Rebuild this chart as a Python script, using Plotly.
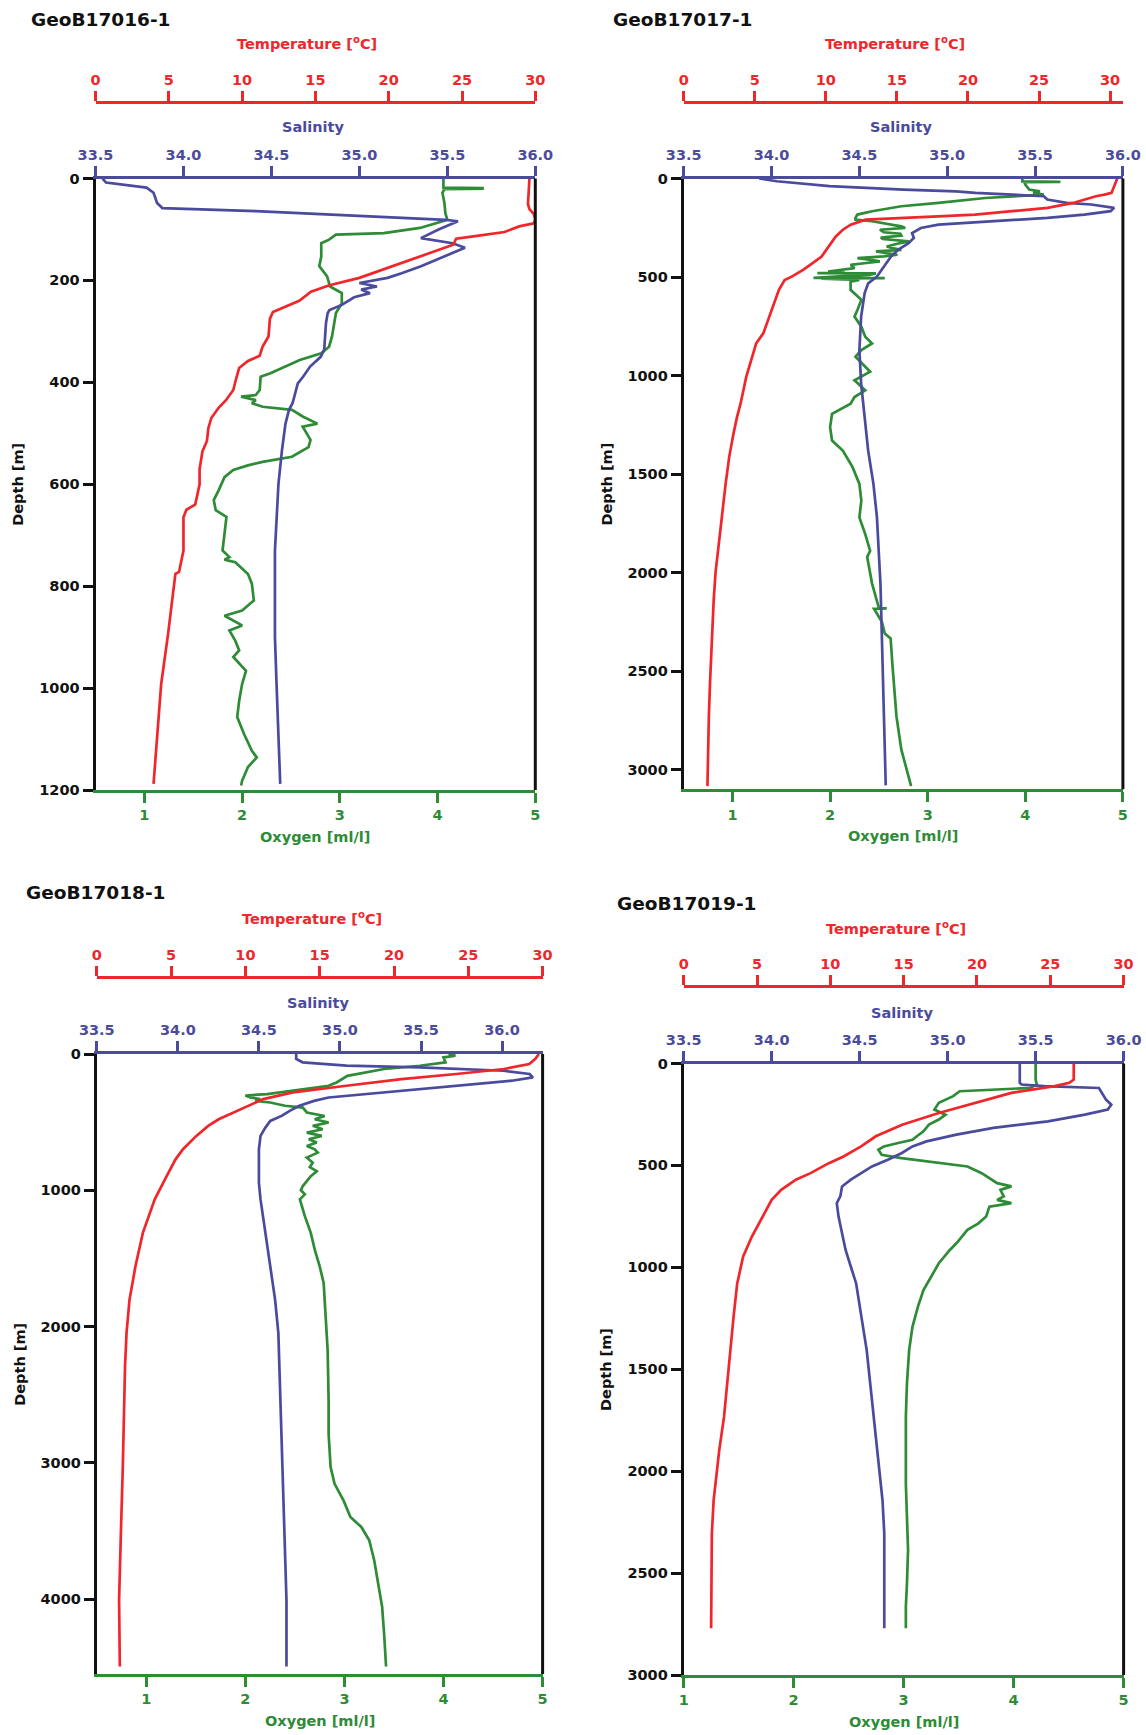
import plotly.graph_objects as go

W, H = 1146, 1735

# ---------------------------------------------------------------- data
stations = ["GeoB17016-1", "GeoB17017-1", "GeoB17018-1", "GeoB17019-1"]

# --- GeoB17016-1
s16_sal_depth = [0, 8, 18, 28, 48, 58, 64, 71, 78, 81, 84, 100, 117, 127, 136, 146, 166, 172, 186,
                 195, 205, 212, 218, 225, 233, 248, 258, 264, 284, 336, 350, 369, 389, 402, 441,
                 454, 481, 533, 599, 664, 730, 800, 900, 1000, 1100, 1188]
s16_sal = [33.54, 33.56, 33.79, 33.83, 33.85, 33.88, 34.41, 34.83, 35.24, 35.49, 35.56, 35.45,
           35.35, 35.53, 35.60, 35.53, 35.40, 35.35, 35.24, 35.16, 35.00, 35.10, 35.01, 35.06,
           34.97, 34.90, 34.83, 34.82, 34.81, 34.80, 34.78, 34.72, 34.68, 34.65, 34.62, 34.60,
           34.58, 34.56, 34.54, 34.53, 34.52, 34.52, 34.52, 34.53, 34.54, 34.55]
s16_temp_depth = [0, 50, 60, 70, 80, 88, 94, 105, 113, 118, 130, 150, 175, 195, 210, 222, 240,
                  255, 262, 275, 310, 330, 348, 358, 372, 392, 415, 435, 450, 470, 490, 515, 535,
                  570, 600, 640, 650, 665, 730, 772, 776, 894, 992, 1188]
s16_temp = [29.6, 29.5, 29.6, 29.9, 30.0, 29.9, 28.9, 27.9, 25.9, 24.6, 24.4, 22.4, 19.9, 18.0,
            15.9, 14.7, 13.9, 12.7, 12.1, 11.9, 11.8, 11.4, 11.2, 10.4, 9.8, 9.6, 9.4, 8.9, 8.4,
            7.9, 7.7, 7.6, 7.3, 7.1, 7.1, 6.8, 6.2, 6.0, 6.0, 5.7, 5.45, 4.95, 4.48, 3.96]
s16_oxy_depth = [0, 18, 19, 20, 21, 28, 48, 68, 81, 97, 107, 110, 120, 127, 153, 172, 192, 212,
                 225, 245, 264, 310, 330, 343, 356, 369, 382, 389, 415, 425, 428, 435, 441, 448,
                 454, 467, 481, 487, 513, 527, 546, 556, 563, 572, 586, 612, 631, 651, 664, 730,
                 743, 748, 753, 776, 795, 828, 848, 858, 867, 877, 887, 907, 926, 939, 966, 992,
                 1025, 1057, 1090, 1123, 1136, 1155, 1182, 1191]
s16_oxy = [4.06, 4.06, 4.46, 4.46, 4.07, 4.05, 4.07, 4.08, 4.10, 3.82, 3.45, 2.96, 2.89, 2.81,
           2.81, 2.79, 2.87, 2.90, 3.02, 3.02, 2.96, 2.92, 2.89, 2.81, 2.59, 2.44, 2.29, 2.19,
           2.18, 2.14, 1.99, 2.14, 2.10, 2.21, 2.51, 2.62, 2.77, 2.62, 2.70, 2.68, 2.51, 2.21,
           2.06, 1.91, 1.82, 1.76, 1.71, 1.73, 1.84, 1.80, 1.87, 1.82, 1.93, 2.06, 2.10, 2.12,
           2.00, 1.82, 1.91, 2.00, 1.87, 1.93, 1.97, 1.91, 2.04, 2.00, 1.97, 1.95, 2.02, 2.10,
           2.15, 2.06, 2.00, 1.99]

# --- GeoB17017-1
s17_sal_depth = [0, 14, 39, 48, 56, 65, 73, 82, 90, 107, 124, 132, 149, 166, 183, 200, 217, 234,
                 251, 277, 302, 328, 362, 396, 447, 498, 532, 582, 701, 871, 1041, 1211, 1381,
                 1550, 1720, 1890, 2056, 2393, 2730, 3080]
s17_sal = [33.93, 34.03, 34.33, 34.54, 34.75, 35.05, 35.16, 35.37, 35.55, 35.57, 35.68, 35.82,
           35.95, 35.93, 35.78, 35.57, 35.26, 34.95, 34.85, 34.80, 34.81, 34.78, 34.72, 34.68,
           34.64, 34.60, 34.55, 34.53, 34.51, 34.50, 34.51, 34.53, 34.55, 34.58, 34.60, 34.61,
           34.62, 34.63, 34.64, 34.65]
s17_temp_depth = [0, 39, 73, 82, 90, 124, 149, 166, 183, 192, 200, 209, 234, 260, 294, 345, 396,
                  438, 464, 498, 515, 565, 667, 786, 837, 905, 1007, 1143, 1211, 1296, 1414, 1550,
                  1720, 1890, 2000, 2140, 2393, 2561, 2730, 2899, 3084]
s17_temp = [30.5, 30.3, 30.1, 29.6, 29.0, 27.4, 25.6, 23.1, 20.5, 17.9, 15.4, 12.8, 11.75, 11.2,
            10.7, 10.2, 9.7, 8.9, 8.4, 7.6, 7.1, 6.7, 6.2, 5.6, 5.1, 4.8, 4.4, 4.0, 3.75, 3.5,
            3.2, 2.95, 2.7, 2.4, 2.24, 2.11, 1.93, 1.85, 1.77, 1.72, 1.67]
s17_oxy_depth = [0, 15, 17, 19, 31, 45, 56, 65, 73, 82, 90, 99, 124, 141, 166, 183, 200, 209, 217,
                 230, 243, 251, 260, 273, 280, 290, 300, 307, 319, 330, 345, 355, 362, 370, 387,
                 395, 404, 412, 421, 430, 438, 455, 472, 478, 480, 482, 489, 497, 504, 506, 508,
                 515, 523, 565, 616, 667, 701, 752, 803, 837, 871, 905, 956, 981, 1024, 1075, 1109,
                 1143, 1194, 1262, 1330, 1381, 1465, 1550, 1635, 1720, 1805, 1890, 1921, 2056,
                 2180, 2182, 2184, 2250, 2309, 2334, 2477, 2612, 2730, 2899, 3084]
s17_oxy = [3.97, 3.97, 4.36, 3.99, 4.00, 4.02, 4.04, 4.15, 4.08, 4.19, 3.90, 3.59, 3.11, 2.73,
           2.43, 2.28, 2.26, 2.26, 2.43, 2.60, 2.73, 2.77, 2.51, 2.55, 2.72, 2.73, 2.52, 2.54,
           2.81, 2.70, 2.58, 2.65, 2.73, 2.47, 2.69, 2.55, 2.28, 2.40, 2.51, 2.35, 2.21, 2.25,
           1.98, 2.15, 1.87, 2.47, 2.40, 2.10, 1.83, 2.56, 1.91, 2.30, 2.21, 2.21, 2.32, 2.28,
           2.25, 2.32, 2.36, 2.43, 2.32, 2.26, 2.36, 2.41, 2.25, 2.36, 2.25, 2.21, 2.02, 2.00,
           2.02, 2.13, 2.23, 2.30, 2.32, 2.30, 2.36, 2.41, 2.38, 2.43, 2.50, 2.58, 2.45, 2.53,
           2.56, 2.62, 2.64, 2.66, 2.68, 2.73, 2.83]

# --- GeoB17018-1
s18_sal_depth = [0, 37, 61, 86, 98, 110, 123, 147, 172, 196, 221, 258, 294, 319, 344, 380, 417,
                 454, 491, 540, 601, 699, 822, 945, 1067, 1313, 1558, 1804, 2049, 2417, 2908, 3276,
                 3641, 4007, 4495]
s18_sal = [34.73, 34.73, 34.77, 35.04, 35.49, 35.77, 36.01, 36.17, 36.19, 36.06, 35.83, 35.49,
           35.16, 34.93, 34.84, 34.75, 34.69, 34.64, 34.57, 34.54, 34.51, 34.50, 34.50, 34.50,
           34.51, 34.54, 34.57, 34.60, 34.62, 34.63, 34.64, 34.65, 34.66, 34.67, 34.67]
s18_temp_depth = [0, 37, 74, 110, 147, 184, 233, 282, 331, 380, 429, 479, 528, 601, 699, 773, 896,
                  1067, 1313, 1558, 1804, 2049, 2294, 2663, 3032, 3520, 3763, 4007, 4495]
s18_temp = [29.75, 29.5, 29.1, 27.4, 24.2, 20.5, 16.8, 13.2, 11.2, 10.2, 9.2, 8.2, 7.5, 6.7, 5.8,
            5.3, 4.7, 3.9, 3.1, 2.6, 2.2, 2.0, 1.9, 1.8, 1.75, 1.62, 1.55, 1.5, 1.55]
s18_oxy_depth = [0, 12, 25, 61, 86, 110, 160, 209, 233, 270, 294, 305, 319, 330, 344, 356, 380,
                 393, 429, 455, 479, 503, 527, 552, 577, 601, 626, 650, 675, 700, 724, 760, 798,
                 830, 860, 896, 930, 969, 1000, 1030, 1067, 1190, 1313, 1436, 1558, 1681, 1926,
                 2172, 2540, 2788, 3032, 3154, 3276, 3398, 3471, 3568, 3715, 3885, 4056, 4251, 4495]
s18_oxy = [4.05, 4.12, 4.00, 4.02, 3.76, 3.40, 3.03, 2.92, 2.84, 2.47, 2.22, 2.00, 2.05, 2.15,
           2.10, 2.25, 2.40, 2.58, 2.62, 2.80, 2.70, 2.84, 2.68, 2.78, 2.62, 2.77, 2.64, 2.72,
           2.62, 2.70, 2.73, 2.62, 2.68, 2.65, 2.72, 2.66, 2.62, 2.58, 2.56, 2.60, 2.55, 2.60,
           2.66, 2.70, 2.75, 2.79, 2.81, 2.83, 2.84, 2.84, 2.86, 2.90, 2.99, 3.06, 3.17, 3.25,
           3.30, 3.34, 3.38, 3.40, 3.42]

# --- GeoB17019-1
s19_sal_depth = [0, 95, 103, 111, 120, 161, 177, 202, 226, 251, 284, 316, 349, 382, 407, 439, 472,
                 505, 538, 570, 603, 652, 685, 751, 833, 915, 997, 1079, 1243, 1406, 1570, 1734,
                 1898, 2144, 2307, 2470, 2633, 2771]
s19_sal = [35.41, 35.41, 35.42, 35.55, 35.86, 35.89, 35.90, 35.93, 35.91, 35.78, 35.57, 35.26,
           35.05, 34.88, 34.80, 34.74, 34.66, 34.57, 34.51, 34.45, 34.40, 34.39, 34.37, 34.38,
           34.40, 34.42, 34.45, 34.48, 34.51, 34.54, 34.56, 34.58, 34.60, 34.63, 34.64, 34.64,
           34.64, 34.64]
s19_temp_depth = [0, 79, 95, 111, 144, 193, 243, 300, 357, 407, 456, 489, 538, 570, 620, 669, 751,
                  849, 948, 1079, 1243, 1488, 1570, 1734, 1899, 2013, 2144, 2307, 2551, 2771]
s19_temp = [26.6, 26.6, 26.3, 25.3, 22.35, 19.9, 17.4, 14.9, 13.1, 12.1, 10.9, 9.9, 8.65, 7.65,
            6.65, 6.0, 5.4, 4.65, 4.05, 3.65, 3.4, 3.1, 2.95, 2.75, 2.42, 2.22, 2.04, 1.92, 1.87,
            1.87]
s19_oxy_depth = [0, 79, 103, 120, 136, 160, 193, 226, 251, 275, 300, 333, 357, 374, 390, 407, 423,
                 448, 464, 489, 505, 538, 587, 603, 620, 652, 669, 685, 702, 751, 784, 816, 882,
                 915, 980, 1046, 1111, 1193, 1292, 1406, 1570, 1734, 1866, 2062, 2225, 2388, 2551,
                 2665, 2771]
s19_oxy = [4.20, 4.20, 4.21, 4.15, 3.51, 3.45, 3.32, 3.28, 3.38, 3.32, 3.23, 3.18, 3.12, 3.08,
           2.95, 2.82, 2.77, 2.80, 2.98, 3.32, 3.58, 3.71, 3.85, 3.98, 3.88, 3.91, 3.85, 3.98,
           3.78, 3.75, 3.68, 3.58, 3.48, 3.42, 3.32, 3.25, 3.18, 3.13, 3.08, 3.05, 3.03, 3.02,
           3.02, 3.02, 3.03, 3.04, 3.03, 3.02, 3.02]

# tick labels
temp_ticks = [0, 5, 10, 15, 20, 25, 30]
sal_ticks = [33.5, 34.0, 34.5, 35.0, 35.5, 36.0]
oxy_ticks = [1, 2, 3, 4, 5]
depth_ticks = [
    [0, 200, 400, 600, 800, 1000, 1200],
    [0, 500, 1000, 1500, 2000, 2500, 3000],
    [0, 1000, 2000, 3000, 4000],
    [0, 500, 1000, 1500, 2000, 2500, 3000],
]

profiles = [
    dict(sal=(s16_sal, s16_sal_depth), temp=(s16_temp, s16_temp_depth), oxy=(s16_oxy, s16_oxy_depth)),
    dict(sal=(s17_sal, s17_sal_depth), temp=(s17_temp, s17_temp_depth), oxy=(s17_oxy, s17_oxy_depth)),
    dict(sal=(s18_sal, s18_sal_depth), temp=(s18_temp, s18_temp_depth), oxy=(s18_oxy, s18_oxy_depth)),
    dict(sal=(s19_sal, s19_sal_depth), temp=(s19_temp, s19_temp_depth), oxy=(s19_oxy, s19_oxy_depth)),
]

# ---------------------------------------------------------------- layout spec (pixels)
panels = [
    dict(x0=95.5, x1=535.3, top=178.5, bot=790, temp_line=101.7, title_x=29, title_y=20,
         depth_max=1200, oxy_min=0.5, sal_max=36.0, temp_max=30.0),
    dict(x0=683.7, x1=1122.9, top=178.5, bot=789.3, temp_line=101.7, title_x=611, title_y=20,
         depth_max=3100, oxy_min=0.5, sal_max=36.0, temp_max=30.9),
    dict(x0=96.8, x1=542.6, top=1054, bot=1674, temp_line=976.7, title_x=24, title_y=892,
         depth_max=4550, oxy_min=0.5, sal_max=36.25, temp_max=30.0),
    dict(x0=683.7, x1=1123.6, top=1063.5, bot=1675, temp_line=986, title_x=615, title_y=903,
         depth_max=3000, oxy_min=1.0, sal_max=36.0, temp_max=30.0),
]

RED = "#f0262a"
BLUE = "#4b4b9e"
GREEN = "#2e8b36"
BLACK = "#111111"
FONT = "DejaVu Sans"
TICK_SIZE = 14.5
LAB_SIZE = 14.5


def px_x(v):
    return v / W


def px_y(v):
    return 1 - v / H


def font(color, size=TICK_SIZE):
    return dict(family=FONT, size=size, color=color, weight="bold")


def ax_id(n, kind):
    return kind if n == 1 else f"{kind}{n}"


def ax_key(n, kind):
    return f"{kind}axis" if n == 1 else f"{kind}axis{n}"


fig = go.Figure()
layout = dict(
    width=W, height=H, margin=dict(l=0, r=0, t=0, b=0), autosize=False,
    paper_bgcolor="white", plot_bgcolor="white", showlegend=False, template="none",
)
annotations = []
shapes = []

for k, (spec, prof) in enumerate(zip(panels, profiles)):
    n_oxy, n_sal, n_temp, n_y = 3 * k + 1, 3 * k + 2, 3 * k + 3, k + 1
    dom_x = [px_x(spec["x0"]), px_x(spec["x1"])]
    dom_y = [px_y(spec["bot"]), px_y(spec["top"])]
    yid = ax_id(n_y, "y")
    common = dict(showgrid=False, zeroline=False, showline=True, linewidth=3, ticks="outside",
                  ticklen=10, tickwidth=2.5, automargin=False, fixedrange=True)

    layout[ax_key(n_y, "y")] = dict(
        common, domain=dom_y, anchor=ax_id(n_oxy, "x"), range=[spec["depth_max"], 0],
        linecolor=BLACK, tickcolor=BLACK, tickfont=font(BLACK),
        tickvals=depth_ticks[k], ticktext=[str(v) for v in depth_ticks[k]])
    layout[ax_key(n_oxy, "x")] = dict(
        common, domain=dom_x, anchor=yid, side="bottom", range=[spec["oxy_min"], 5],
        linecolor=GREEN, tickcolor=GREEN, tickfont=font(GREEN),
        tickvals=oxy_ticks, ticktext=[str(v) for v in oxy_ticks])
    layout[ax_key(n_sal, "x")] = dict(
        common, domain=dom_x, anchor=yid, side="top", overlaying=ax_id(n_oxy, "x"),
        range=[33.5, spec["sal_max"]], linecolor=BLUE, tickcolor=BLUE, tickfont=font(BLUE),
        tickvals=sal_ticks, ticktext=[f"{v:.1f}" for v in sal_ticks])
    layout[ax_key(n_temp, "x")] = dict(
        common, domain=dom_x, anchor="free", position=px_y(spec["temp_line"]), side="top",
        overlaying=ax_id(n_oxy, "x"), range=[0, spec["temp_max"]], linecolor=RED,
        tickcolor=RED, tickfont=font(RED),
        tickvals=temp_ticks, ticktext=[str(v) for v in temp_ticks])

    # right frame
    shapes.append(dict(type="line", xref=f"{ax_id(n_oxy, 'x')} domain", yref=f"{yid} domain",
                       x0=1, x1=1, y0=0, y1=1, line=dict(color=BLACK, width=3)))

    # traces
    for var, color, n_x in (("sal", BLUE, n_sal), ("temp", RED, n_temp), ("oxy", GREEN, n_oxy)):
        vals, depths = prof[var]
        fig.add_trace(go.Scatter(x=vals, y=depths, mode="lines",
                                 line=dict(color=color, width=2.7),
                                 xaxis=ax_id(n_x, "x"), yaxis=yid, hoverinfo="skip"))

    cx_px = (spec["x0"] + spec["x1"]) / 2
    annotations += [
        dict(text=stations[k], x=px_x(spec["title_x"]), y=px_y(spec["title_y"]),
             xanchor="left", yanchor="middle", font=font(BLACK, 18.5)),
        dict(text="Temperature [<sup>o</sup>C]", x=px_x(cx_px - 8),
             y=px_y(spec["temp_line"] - 58.5),
             xanchor="center", yanchor="middle", font=font(RED, LAB_SIZE)),
        dict(text="Salinity", x=px_x(cx_px - 2), y=px_y(spec["top"] - 51), xanchor="center",
             yanchor="middle", font=font(BLUE, LAB_SIZE)),
        dict(text="Oxygen [ml/l]", x=px_x(cx_px), y=px_y(spec["bot"] + 47), xanchor="center",
             yanchor="middle", font=font(GREEN, LAB_SIZE)),
        dict(text="Depth [m]", x=px_x(spec["x0"] - 77), y=px_y((spec["top"] + spec["bot"]) / 2),
             xanchor="center", yanchor="middle", textangle=-90, font=font(BLACK, LAB_SIZE)),
    ]

for a in annotations:
    a.update(xref="paper", yref="paper", showarrow=False)
layout["annotations"] = annotations
layout["shapes"] = shapes
fig.update_layout(**layout)
fig.write_html(
    "out.html",
    config={"displayModeBar": False, "staticPlot": False},
    post_script=("document.body.style.margin='0px';document.body.style.padding='0px';"
                 "document.documentElement.style.overflow='hidden';"),
)
